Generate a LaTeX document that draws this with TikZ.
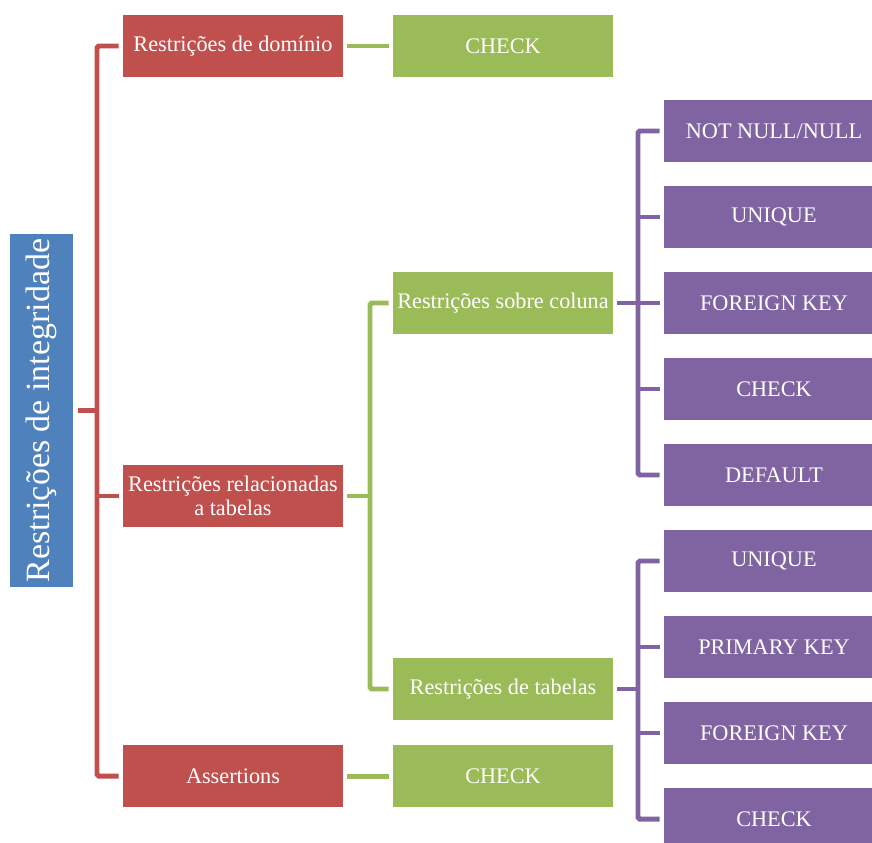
\documentclass[tikz,border=0pt]{standalone}
\usepackage{fontspec}
\setmainfont{Liberation Serif}
\definecolor{rootblue}{HTML}{4F81BD}
\definecolor{levred}{HTML}{C0504D}
\definecolor{levgreen}{HTML}{9BBB59}
\definecolor{levpurple}{HTML}{8064A2}
\tikzset{
  box/.style={minimum width=220*0.85pt, minimum height=62*0.85pt, inner sep=2pt,
    text=white, align=center, font=\fontsize{19}{21}\selectfont},
  redbox/.style={box, fill=levred},
  greenbox/.style={box, fill=levgreen},
  purplebox/.style={box, fill=levpurple, minimum width=220*0.85pt},
  link/.style={line width=5pt*0.85, rounded corners=1.5pt},
}
\begin{document}
\begin{tikzpicture}[x=0.03cm, y=-0.03cm]
	\clip (0,0) rectangle (872,842);
	% raiz
	\node[fill=rootblue, minimum width=63*0.85pt, minimum height=355*0.85pt, inner sep=0pt] (root) at (41.5,410.5) {};
	\node[rotate=90, text=white, font=\fontsize{29}{31}\selectfont] at (root.center) {Restrições de integridade};
	% nivel 1
	\node[redbox] (dom) at (233,46) {Restrições de domínio};
	\node[redbox] (rel) at (233,496) {Restrições relacionadas\\a tabelas};
	\node[redbox] (ass) at (233,776) {Assertions};
	% nivel 2
	\node[greenbox] (chk1) at (503,46) {CHECK};
	\node[greenbox] (col) at (503,303) {Restrições sobre coluna};
	\node[greenbox] (tab) at (503,689) {Restrições de tabelas};
	\node[greenbox] (chk2) at (503,776) {CHECK};
	% nivel 3
	\node[purplebox] (nn) at (774,131) {NOT NULL/NULL};
	\node[purplebox] (cu) at (774,217) {UNIQUE};
	\node[purplebox] (cf) at (774,303) {FOREIGN KEY};
	\node[purplebox] (cc) at (774,389) {CHECK};
	\node[purplebox] (cd) at (774,475) {DEFAULT};
	\node[purplebox] (tu) at (774,561) {UNIQUE};
	\node[purplebox] (tp) at (774,647) {PRIMARY KEY};
	\node[purplebox] (tf) at (774,733) {FOREIGN KEY};
	\node[purplebox] (tc) at (774,819) {CHECK};
	% ligacoes
	\coordinate (rx) at (97,0);
	\coordinate (gx) at (370,0);
	\coordinate (px) at (638,0);
	\draw[link, levred] ([xshift=-4pt]dom.west) -| (rx |- ass.west) -- ([xshift=-4pt]ass.west);
	\draw[link, levred] ([xshift=4pt]root.east) -- (rx |- root.east);
	\draw[link, levred] ([xshift=-4pt]rel.west) -- (rx |- rel.west);
	\draw[link, levgreen] ([xshift=4pt]dom.east) -- ([xshift=-4pt]chk1.west);
	\draw[link, levgreen] ([xshift=4pt]ass.east) -- ([xshift=-4pt]chk2.west);
	\draw[link, levgreen] ([xshift=-4pt]col.west) -| (gx |- tab.west) -- ([xshift=-4pt]tab.west);
	\draw[link, levgreen] ([xshift=4pt]rel.east) -- (gx |- rel.east);
	\draw[link, levpurple] ([xshift=-4pt]nn.west) -| (px |- cd.west) -- ([xshift=-4pt]cd.west);
	\foreach \n in {cu,cf,cc}
		\draw[link, levpurple] ([xshift=-4pt]\n.west) -- (px |- \n.west);
	\draw[link, levpurple] ([xshift=4pt]col.east) -- (px |- col.east);
	\draw[link, levpurple] ([xshift=-4pt]tu.west) -| (px |- tc.west) -- ([xshift=-4pt]tc.west);
	\foreach \n in {tp,tf}
		\draw[link, levpurple] ([xshift=-4pt]\n.west) -- (px |- \n.west);
	\draw[link, levpurple] ([xshift=4pt]tab.east) -- (px |- tab.east);
\end{tikzpicture}
\end{document}
